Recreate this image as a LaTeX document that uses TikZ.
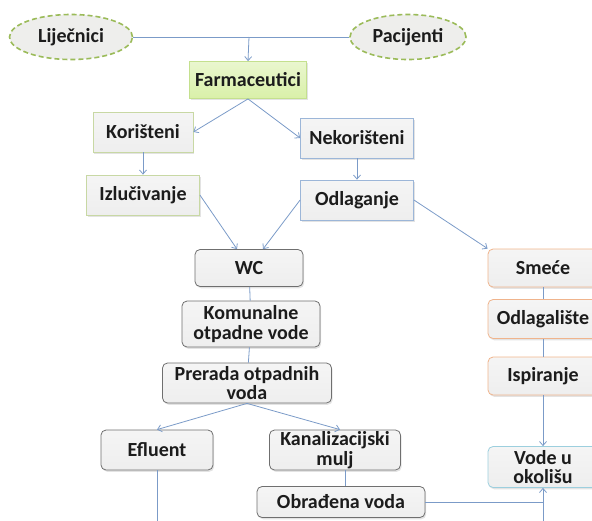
\documentclass[tikz,border=0pt]{standalone}
\usepackage{fontspec}
\setmainfont{Carlito}
\usetikzlibrary{shapes.geometric, shadows, calc, arrows.meta}

\definecolor{linkblue}{HTML}{7B9BC8}
\definecolor{textgray}{HTML}{1C1C1C}
\definecolor{ovalgreen}{HTML}{9BBB59}
\definecolor{ovalfill}{HTML}{EEEEEC}
\definecolor{farmdraw}{HTML}{C4E08E}
\definecolor{farmfill}{HTML}{D9F0A8}
\definecolor{usedgreen}{HTML}{C8D8A4}
\definecolor{unusedblue}{HTML}{9CB6D8}
\definecolor{boxfill}{HTML}{EEEEEE}
\definecolor{waterdraw}{HTML}{6F6F6F}
\definecolor{wastedraw}{HTML}{F0B48C}
\definecolor{envdraw}{HTML}{9CCFDE}

\begin{document}
\begin{tikzpicture}[x=1pt, y=-1pt, >={Straight Barb[length=4pt,width=7pt]},
    every node/.style={font=\fontsize{20}{19.5}\selectfont\bfseries, text=textgray, align=center, inner sep=0pt},
    shade/.style={drop shadow={opacity=0.22, shadow xshift=1.2pt, shadow yshift=-1.8pt}},
    oval/.style={ellipse, draw=ovalgreen, line width=1.6pt, dash pattern=on 5pt off 3pt, fill=ovalfill},
    farmbox/.style={shade, draw=farmdraw, line width=0.8pt, top color=farmfill!55!white, bottom color=farmfill},
    usedbox/.style={shade, draw=usedgreen, line width=0.8pt, top color=white!92!gray, bottom color=boxfill},
    unusedbox/.style={shade, draw=unusedblue, line width=0.8pt, top color=white!92!gray, bottom color=boxfill},
    waterbox/.style={shade, rounded corners=5pt, draw=waterdraw, line width=0.8pt, top color=white!92!gray, bottom color=boxfill},
    wastebox/.style={shade, rounded corners=5pt, draw=wastedraw, line width=0.8pt, top color=white!92!gray, bottom color=boxfill},
    envbox/.style={shade, rounded corners=5pt, draw=envdraw, line width=0.8pt, top color=white!92!gray, bottom color=boxfill},
    link/.style={draw=linkblue, line width=0.8pt}]

    % Frame
    \clip (0,0) rectangle (592,520);

    % Sources
    \node[oval, minimum width=123pt, minimum height=45pt] (ljecnici) at (71,37) {Liječnici};
    \node[oval, minimum width=116pt, minimum height=45pt] (pacijenti) at (408,37) {Pacijenti};
    \node[farmbox, minimum width=117pt, minimum height=37pt] (farm) at (248,80) {Farmaceutici};

    % Used / unused branch
    \node[usedbox, minimum width=100pt, minimum height=40pt] (koristeni) at (143,132) {Korišteni};
    \node[usedbox, minimum width=113pt, minimum height=40pt] (izlucivanje) at (143,195) {Izlučivanje};
    \node[unusedbox, minimum width=113pt, minimum height=40pt] (nekoristeni) at (357,138) {Nekorišteni};
    \node[unusedbox, minimum width=113pt, minimum height=40pt] (odlaganje) at (357,200) {Odlaganje};

    % Waste water column
    \node[waterbox, minimum width=108pt, minimum height=37pt] (wc) at (249,268) {WC};
    \node[waterbox, minimum width=138pt, minimum height=46pt] (komunalne) at (251,324) {Komunalne\\otpadne vode};
    \node[waterbox, minimum width=169pt, minimum height=40pt] (prerada) at (247,383) {Prerada otpadnih\\voda};
    \node[waterbox, minimum width=112pt, minimum height=40pt] (efluent) at (157,450) {Efluent};
    \node[waterbox, minimum width=131pt, minimum height=40pt] (kanal) at (335,450) {Kanalizacijski\\mulj};
    \node[waterbox, minimum width=168pt, minimum height=31pt] (obradena) at (341,502) {Obrađena voda};

    % Landfill column
    \node[wastebox, minimum width=110pt, minimum height=38pt] (smece) at (543,268) {Smeće};
    \node[wastebox, minimum width=110pt, minimum height=39pt] (odlagaliste) at (543,319) {Odlagalište};
    \node[wastebox, minimum width=110pt, minimum height=38pt] (ispiranje) at (543,376) {Ispiranje};
    \node[envbox, minimum width=110pt, minimum height=41pt] (vode) at (543,467) {Vode u\\okolišu};

    % Free ends
    \coordinate (split) at (249,37);
    \coordinate (efout) at (157,525);
    \coordinate (envin) at (543,525);
    \coordinate (mulj) at ($(kanal.south)+(10,0)$);

    % Connectors
    \draw[link] (ljecnici) -- (pacijenti);
    \draw[link, ->] (split) -- (farm.north);
    \draw[link, ->] (farm.south) -- (koristeni.east);
    \draw[link, ->] (farm.south) -- (nekoristeni.west);
    \draw[link, ->] (koristeni) -- (izlucivanje);
    \draw[link, ->] (nekoristeni) -- (odlaganje);
    \draw[link, ->] (izlucivanje.east) -- ($(wc.north)+(-12,0)$);
    \draw[link, ->] (odlaganje.west) -- ($(wc.north)+(14,0)$);
    \draw[link, ->] (odlaganje.east) -- (smece.north west);
    \draw[link] (wc) -- (komunalne);
    \draw[link] (komunalne) -- (prerada);
    \draw[link, ->] (prerada.south) -- (efluent.north);
    \draw[link, ->] (prerada.south) -- ($(kanal.north)+(5,0)$);
    \draw[link] (mulj) -- (mulj |- obradena.north);
    \draw[link] (efluent) -- (efout);
    \draw[link] (smece) -- (odlagaliste);
    \draw[link] (odlagaliste) -- (ispiranje);
    \draw[link, ->] (ispiranje) -- (vode);
    \draw[link] (obradena.east) -- (obradena.east -| vode.south);
    \draw[link, ->] (envin) -- (vode.south);

\end{tikzpicture}
\end{document}
